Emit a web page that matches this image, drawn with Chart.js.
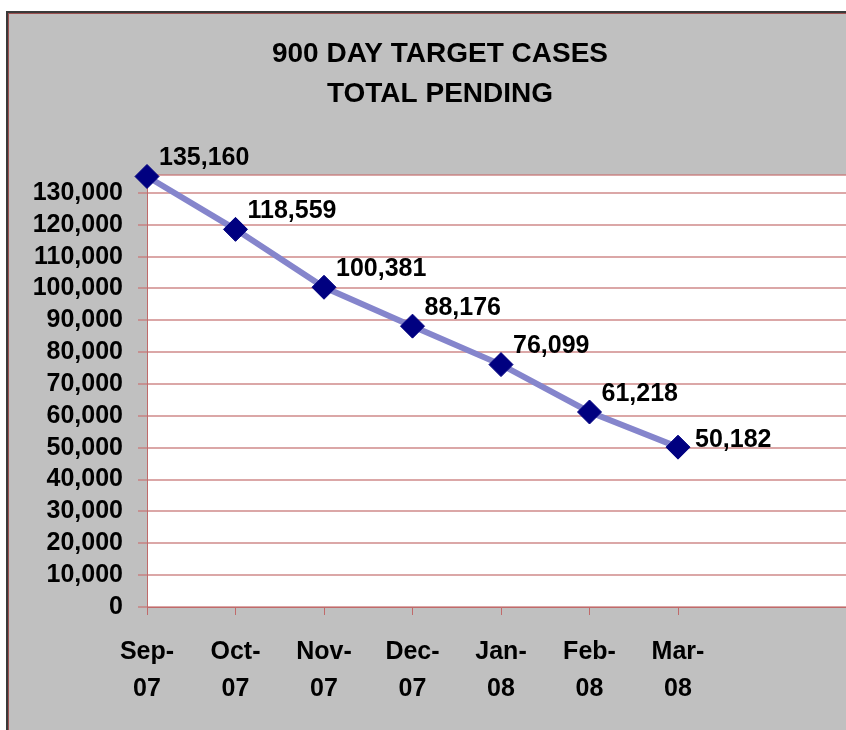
<!DOCTYPE html>
<html>
<head>
<meta charset="utf-8">
<script src="https://cdn.jsdelivr.net/npm/chart.js@4/dist/chart.umd.min.js"></script>
<style>
  html, body { margin: 0; padding: 0; overflow: hidden; background: #ffffff; }
  #wrap { position: relative; width: 873px; height: 730px; }
</style>
</head>
<body>
<div id="wrap"><canvas id="c" width="873" height="730"></canvas></div>
<script>
// ---- data ----
const categories = [['Sep-', '07'], ['Oct-', '07'], ['Nov-', '07'], ['Dec-', '07'], ['Jan-', '08'], ['Feb-', '08'], ['Mar-', '08'], '', ''];
const pendingValues = [135160, 118559, 100381, 88176, 76099, 61218, 50182];
const titleLines = ['900 DAY TARGET CASES', 'TOTAL PENDING'];
const yTickValues = [0, 10000, 20000, 30000, 40000, 50000, 60000, 70000, 80000, 90000, 100000, 110000, 120000, 130000];
const yAxisMax = 135600;

const FONT = "'Liberation Sans', Arial, sans-serif";
const AXIS_RED = '#c06a6a';

const backgroundPlugin = {
  id: 'bg',
  beforeDraw(chart) {
    const ctx = chart.ctx;
    ctx.save();
    ctx.fillStyle = '#ffffff';
    ctx.fillRect(0, 0, chart.width, chart.height);
    ctx.fillStyle = '#c0c0c0';
    ctx.fillRect(7, 12, chart.width - 7, chart.height - 12);
    ctx.fillStyle = '#3a3a3a';
    ctx.fillRect(6, 11, chart.width - 6, 2);
    ctx.fillRect(6, 11, 2, chart.height - 11);
    ctx.fillStyle = '#9a5050';
    ctx.fillRect(8, 13, chart.width - 8, 1);
    ctx.fillRect(8, 13, 1, chart.height - 13);
    const a = chart.chartArea;
    ctx.fillStyle = '#ffffff';
    ctx.fillRect(a.left, a.top, a.right - a.left, a.bottom - a.top);
    ctx.restore();
  }
};

const valueLabelPlugin = {
  id: 'valueLabels',
  afterDatasetsDraw(chart) {
    const ctx = chart.ctx;
    const meta = chart.getDatasetMeta(0);
    const data = chart.data.datasets[0].data;
    ctx.save();
    ctx.font = 'bold 25px ' + FONT;
    ctx.fillStyle = '#000000';
    ctx.textAlign = 'left';
    ctx.textBaseline = 'middle';
    meta.data.forEach((pt, i) => {
      const last = i === data.length - 1;
      const dx = last ? 17 : 12;
      const dy = last ? -7 : -18;
      ctx.fillText(fmt(data[i]), pt.x + dx, pt.y + dy);
    });
    ctx.restore();
  }
};

function fmt(n) {
  return String(Math.round(n)).replace(/\B(?=(\d{3})+(?!\d))/g, ',');
}

new Chart(document.getElementById('c'), {
  type: 'line',
  data: {
    labels: categories,
    datasets: [{
      data: pendingValues,
      borderColor: '#8585cc',
      borderWidth: 6,
      pointStyle: 'rectRot',
      pointRadius: 12,
      pointHoverRadius: 12,
      pointBackgroundColor: '#000080',
      pointBorderColor: '#000080',
      pointBorderWidth: 1,
      tension: 0,
      clip: false
    }]
  },
  options: {
    responsive: false,
    animation: false,
    events: [],
    layout: { padding: { left: 7, right: 0, top: 0, bottom: 0 } },
    plugins: {
      legend: { display: false },
      tooltip: { enabled: false },
      title: {
        display: true,
        text: titleLines,
        color: '#000000',
        font: { family: FONT, size: 28, weight: 'bold', lineHeight: 1.43 },
        padding: { top: 34, bottom: 61 }
      }
    },
    scales: {
      x: {
        type: 'category',
        offset: false,
        grid: {
          display: true,
          drawOnChartArea: false,
          drawTicks: true,
          tickLength: 8,
          color: AXIS_RED,
          tickColor: (c) => (c.index < pendingValues.length ? AXIS_RED : 'rgba(0,0,0,0)'),
          lineWidth: 1
        },
        border: { display: true, color: AXIS_RED, width: 1 },
        ticks: {
          color: '#000000',
          font: { family: FONT, size: 25, weight: 'bold', lineHeight: 1.5 },
          padding: 18,
          maxRotation: 0,
          autoSkip: false
        },
        afterFit(scale) { scale.height = 123; }
      },
      y: {
        min: 0,
        max: yAxisMax,
        afterBuildTicks(scale) {
          scale.ticks = yTickValues.map(v => ({ value: v })).concat([{ value: yAxisMax }]);
        },
        ticks: {
          autoSkip: false,
          color: '#000000',
          font: { family: FONT, size: 25, weight: 'bold' },
          padding: 15,
          callback: function (v) { return yTickValues.includes(v) ? fmt(v) : ''; }
        },
        grid: {
          color: 'rgba(200,120,120,0.65)',
          tickColor: (c) => (c.tick && c.tick.value === yAxisMax ? 'rgba(0,0,0,0)' : 'rgba(200,120,120,0.65)'),
          lineWidth: 2,
          tickLength: 9,
          drawTicks: true
        },
        border: { display: true, color: AXIS_RED, width: 1 },
        afterFit(scale) { scale.width = 140; }
      }
    }
  },
  plugins: [backgroundPlugin, valueLabelPlugin]
});
</script>
</body>
</html>
